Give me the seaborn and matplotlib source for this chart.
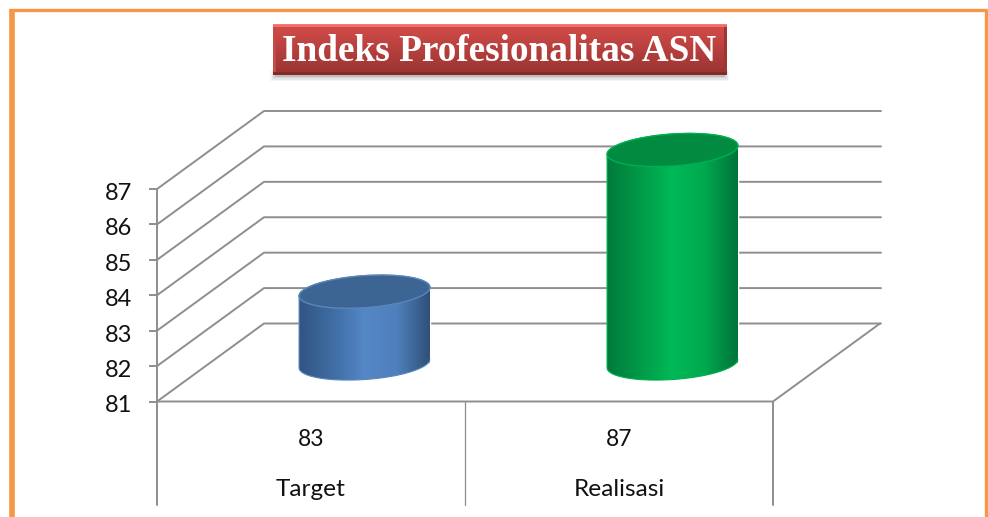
import numpy as np
import seaborn as sns
import matplotlib
matplotlib.use("Agg")
import matplotlib.pyplot as plt
from matplotlib.colors import LinearSegmentedColormap
from matplotlib.patches import Ellipse, PathPatch, Rectangle
from matplotlib.path import Path
from matplotlib.transforms import ScaledTranslation

# ===== data =====
categories = ["Target", "Realisasi"]
values = [83, 87]
y_ticks = [81, 82, 83, 84, 85, 86, 87]
title = "Indeks Profesionalitas ASN"

W, H = 988, 517
GRID = "#8e8e8e"
GRID_LW = 1.4
DEPTH = (107, -78)  # front plane -> back wall, in pixels

bar_colors = ["#4f81bd", "#00b050"]
side_stops = [
    ["#2f5583", "#3f6ca3", "#5487c6", "#4f80bc", "#2e5078"],
    ["#007a3a", "#009a48", "#00b956", "#00a84e", "#00733a"],
]
lid_colors = ["#3d6593", "#008b41"]
rim_colors = ["#5b86ba", "#00b050"]

sns.set_theme(style="white")
plt.rcParams["font.family"] = ["Lato", "DejaVu Sans"]

fig = plt.figure(figsize=(W / 100, H / 100), dpi=100)


def axes_at(x0, x1, y_top, y_bottom, zorder):
    a = fig.add_axes([x0 / W, 1 - y_bottom / H, (x1 - x0) / W, (y_bottom - y_top) / H], zorder=zorder)
    a.patch.set_alpha(0)
    return a


def pixel_axes(zorder):
    a = axes_at(0, W, 0, H, zorder)
    a.set_xlim(0, W)
    a.set_ylim(H, 0)
    a.axis("off")
    return a


bg = pixel_axes(0)
over = pixel_axes(3)

# ===== front plane: value axis with its labels =====
front = axes_at(157, 773, 189, 401.5, 1)
front.set_xlim(-0.5, 1.5)
front.set_ylim(min(y_ticks), max(y_ticks))
front.set_yticks(y_ticks)
front.set_xticks([])
front.tick_params(axis="y", left=True, length=5.8, width=GRID_LW, color=GRID, pad=12.2, labelsize=17, labelcolor="#111111")
for s in ["top", "right", "bottom"]:
    front.spines[s].set_visible(False)
front.spines["left"].set_color(GRID)
front.spines["left"].set_linewidth(GRID_LW)
# labels sit a little below their ticks in the reference
label_shift = ScaledTranslation(0, -2.5 / 100, fig.dpi_scale_trans)
for lab in front.get_yticklabels():
    lab.set_transform(lab.get_transform() + label_shift)

# ===== walls and floor =====
for v in y_ticks:
    fx, fy = bg.transData.inverted().transform(front.transData.transform((-0.5, v)))
    bx, by = fx + DEPTH[0], fy + DEPTH[1]
    bg.plot([fx, bx, bx + 617], [fy, by, by], color=GRID, lw=GRID_LW, solid_capstyle="round")

fx0, fy0 = bg.transData.inverted().transform(front.transData.transform((-0.5, min(y_ticks))))
fx2, _ = bg.transData.inverted().transform(front.transData.transform((1.5, min(y_ticks))))
bg.plot([fx0, fx2, fx2 + DEPTH[0]], [fy0, fy0, fy0 + DEPTH[1]], color=GRID, lw=GRID_LW)

# data table below the floor
for pos in [-0.5, 0.5, 1.5]:
    tx, _ = bg.transData.inverted().transform(front.transData.transform((pos, min(y_ticks))))
    bg.plot([tx, tx], [fy0, 505], color=GRID, lw=GRID_LW if pos != 0.5 else 0.9)
for i, (cat, val) in enumerate(zip(categories, values)):
    tx, _ = bg.transData.inverted().transform(front.transData.transform((i, min(y_ticks))))
    bg.text(tx, 440, str(val), ha="center", va="center", fontsize=16.5, color="#111111")
    bg.text(tx, 490, cat, ha="center", va="center", fontsize=17.6, color="#111111")

# ===== bars, on the plane half way to the back wall =====
ax = axes_at(157 + DEPTH[0] / 2, 773 + DEPTH[0] / 2, 189 + DEPTH[1] / 2, 401.5 + DEPTH[1] / 2, 2)
sns.barplot(x=categories, y=values, hue=categories, palette=bar_colors, width=0.425,
            dodge=False, legend=False, ax=ax)
ax.set_xlim(-0.5, 1.5)
ax.set_ylim(min(y_ticks), max(y_ticks))
ax.axis("off")

# ===== cylinder shape on top of each bar =====
TILT = np.radians(4)
RY = 16


def ring(cx, cy, rx, t):
    u, w = rx * np.cos(t), RY * np.sin(t)
    return cx + u * np.cos(TILT) + w * np.sin(TILT), cy - u * np.sin(TILT) + w * np.cos(TILT)


for i, patch in enumerate(ax.patches[:len(values)]):
    # bars start at 0 and are cut by the axis, the visible base is the axis minimum
    x0, y_base = over.transData.inverted().transform(ax.transData.transform((patch.get_x(), min(y_ticks))))
    x1, y_top = over.transData.inverted().transform(
        ax.transData.transform((patch.get_x() + patch.get_width(), patch.get_y() + patch.get_height())))
    cx, half = (x0 + x1) / 2, (x1 - x0) / 2
    rx = half / np.cos(TILT)
    t0 = np.arctan2(RY * np.sin(TILT), rx * np.cos(TILT))

    low = np.linspace(t0, t0 + np.pi, 80)
    up = np.linspace(t0 + np.pi, t0 + 2 * np.pi, 80)
    xs = np.r_[ring(cx, y_base + 1, rx, low)[0], ring(cx, y_top, rx, up)[0]]
    ys = np.r_[ring(cx, y_base + 1, rx, low)[1], ring(cx, y_top, rx, up)[1]]
    body = PathPatch(Path(np.c_[xs, ys]), facecolor="none", edgecolor=rim_colors[i], lw=0.8, zorder=3)
    over.add_patch(body)

    cmap = LinearSegmentedColormap.from_list("side", side_stops[i])
    im = over.imshow(np.linspace(0, 1, 256)[None, :], cmap=cmap, aspect="auto", zorder=2,
                     extent=(xs.min(), xs.max(), ys.max(), ys.min()))
    im.set_clip_path(body)

    # y runs downwards on this axes, so a negative angle lifts the right side
    over.add_patch(Ellipse((cx, y_top), 2 * rx, 2 * RY, angle=-np.degrees(TILT),
                           facecolor=lid_colors[i], edgecolor=rim_colors[i], lw=1.0, zorder=4))

# ===== outer frame =====
bg.plot([11.5, 11.5], [9, H], color="#f79646", lw=4.0, solid_capstyle="butt")
bg.plot([9, 987], [9.5, 9.5], color="#f79646", lw=2.4, solid_capstyle="butt")
bg.plot([985.5, 985.5], [9, H], color="#f79646", lw=2.4, solid_capstyle="butt")

# ===== title box =====
bx0, bx1, by0, by1 = 273, 726, 24, 75
for grow, alpha in zip([5, 3.5, 2, 0.5], [0.04, 0.06, 0.08, 0.10]):
    over.add_patch(Rectangle((bx0 + 2 - grow, by1 - 4), bx1 - bx0 - 4 + 2 * grow, 5 + grow,
                             facecolor="black", alpha=alpha, lw=0, zorder=5))

hh, ww = by1 - by0, bx1 - bx0
top_c, bot_c = np.array([0.83, 0.30, 0.29]), np.array([0.60, 0.20, 0.19])
frac = np.linspace(0, 1, hh)[:, None, None]
box = np.tile(top_c, (hh, ww, 1)) * (1 - frac) + np.tile(bot_c, (hh, ww, 1)) * frac
box[:3] = np.array([0.96, 0.43, 0.41])
box[:1] = np.array([0.93, 0.50, 0.48])
box[-3:] = np.array([0.52, 0.17, 0.16])
box[3:-3, :3] = np.array([0.78, 0.29, 0.28])
box[3:-3, -3:] = np.array([0.62, 0.21, 0.20])
over.imshow(box, extent=(bx0, bx1, by1, by0), aspect="auto", zorder=6, interpolation="bilinear")
over.text((bx0 + bx1) / 2, (by0 + by1) / 2 + 2, title, ha="center", va="center", color="white",
          fontsize=26.8, fontweight="bold", family=["Liberation Serif"], zorder=7)

over.set_xlim(0, W)
over.set_ylim(H, 0)

fig.savefig("out.png", dpi=100)
